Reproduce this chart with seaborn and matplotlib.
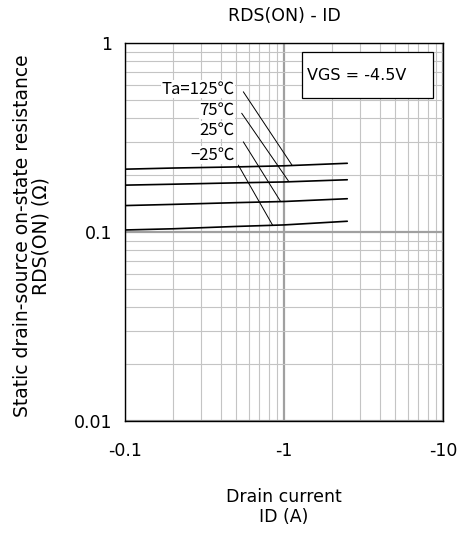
import numpy as np
import pandas as pd
import seaborn as sns
import matplotlib.pyplot as plt
from matplotlib.patches import Rectangle

# Data (ID magnitude in A, RDS(ON) in ohm)
drain_current = [0.1, 0.2, 0.5, 1.0, 2.5]
rds_125 = [0.215, 0.218, 0.221, 0.224, 0.231]
rds_75 = [0.177, 0.179, 0.182, 0.184, 0.189]
rds_25 = [0.138, 0.140, 0.143, 0.145, 0.150]
rds_m25 = [0.1025, 0.104, 0.107, 0.109, 0.114]

temp_labels = ["Ta=125℃", "75℃", "25℃", "−25℃"]
x_ticks = [0.1, 1, 10]
x_ticklabels = ["-0.1", "-1", "-10"]
y_ticks = [0.01, 0.1, 1]
y_ticklabels = ["0.01", "0.1", "1"]

series = [rds_125, rds_75, rds_25, rds_m25]
df = pd.concat([
    pd.DataFrame({"ID": drain_current, "RDS": vals, "Ta": lab})
    for lab, vals in zip(temp_labels, series)
])

sns.set_style("white")
plt.rcParams['font.family'] = ['DejaVu Sans', 'Noto Sans CJK JP']
plt.rcParams['text.color'] = 'black'
plt.rcParams['axes.labelcolor'] = 'black'
plt.rcParams['xtick.color'] = 'black'
plt.rcParams['ytick.color'] = 'black'

fig = plt.figure(figsize=(4.6, 5.35), dpi=100)
ax = fig.add_axes([0.2717, 0.2131, 0.6913, 0.7065])

sns.lineplot(data=df, x="ID", y="RDS", units="Ta", estimator=None,
             color="black", lw=1.2, ax=ax, legend=False, zorder=3)

ax.set_xscale("log")
ax.set_yscale("log")
ax.set_xlim(0.1, 10)
ax.set_ylim(0.01, 1)

# grid: light minor lines, darker decade lines
ax.grid(True, which="minor", color="#c4c4c4", lw=0.8)
ax.grid(True, which="major", color="#a0a0a0", lw=1.6)
ax.set_axisbelow(True)

ax.set_xticks(x_ticks)
ax.set_xticklabels(x_ticklabels)
ax.set_yticks(y_ticks)
ax.set_yticklabels(y_ticklabels)
ax.tick_params(which="both", length=0, labelsize=12.5)
ax.tick_params(axis="x", pad=15)
ax.tick_params(axis="y", pad=9)

for sp in ax.spines.values():
    sp.set_color("black")
    sp.set_linewidth(1.0)

ax.set_title("RDS(ON) - ID", fontsize=12.5, pad=16)
ax.set_xlabel("Drain current\nID (A)", fontsize=12.5, linespacing=1.15)
ax.xaxis.set_label_coords(0.5, -0.178)
ax.set_ylabel("Static drain-source on-state resistance\nRDS(ON) (Ω)",
              fontsize=13.5, linespacing=0.95)
ax.yaxis.set_label_coords(-0.235, 0.49)

# temperature labels with leader lines onto each curve
label_pos = [(0.49, 0.571), (0.49, 0.442), (0.49, 0.347), (0.49, 0.255)]
leader_start = [(0.555, 0.552), (0.542, 0.425), (0.555, 0.300), (0.516, 0.226)]
leader_end_x = [1.127, 1.075, 0.953, 0.849]
for lab, vals, (tx, ty), (sx, sy), ex in zip(temp_labels, series, label_pos,
                                             leader_start, leader_end_x):
    ax.text(tx, ty, lab, ha="right", va="center", fontsize=12,
            family=['Noto Sans CJK JP', 'DejaVu Sans'], zorder=4,
            bbox=dict(facecolor="white", edgecolor="none", pad=0.5))
    ey = 10 ** np.interp(np.log10(ex), np.log10(drain_current), np.log10(vals))
    ax.plot([sx, ex], [sy, ey], color="black", lw=0.7, zorder=3)

# VGS condition box
ax.add_patch(Rectangle((0.556, 0.854), 0.414, 0.123, transform=ax.transAxes,
                       facecolor="white", edgecolor="black", lw=0.9, zorder=4))
ax.text(0.571, 0.915, "VGS = -4.5V", transform=ax.transAxes, ha="left",
        va="center", fontsize=11.5, zorder=5)

fig.savefig("out.png", dpi=100)
